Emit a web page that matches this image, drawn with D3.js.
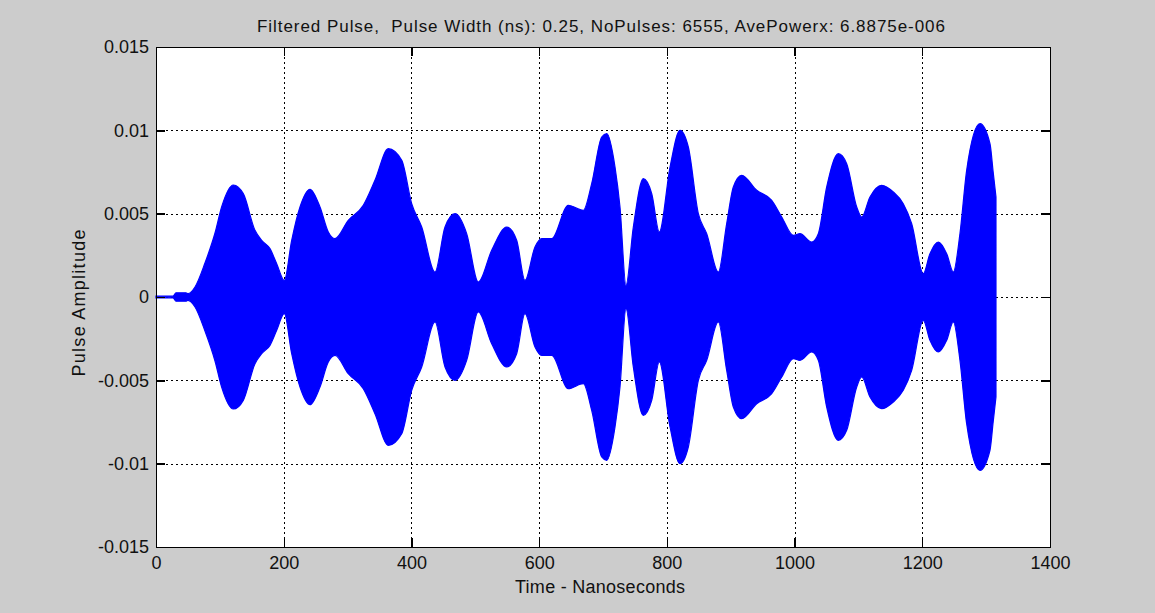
<!DOCTYPE html>
<html>
<head>
<meta charset="utf-8">
<script src="https://cdn.jsdelivr.net/npm/d3@7"></script>
<style>
  html, body { margin: 0; padding: 0; background: #cccccc; }
  svg { display: block; }
  text { font-family: "Liberation Sans", Arial, sans-serif; fill: #111; }
</style>
</head>
<body>
<svg id="chart" width="1155" height="613"></svg>
<script>
// Envelope of the filtered pulse train: time (ns) and peak amplitude
const timeNs = [0, 26.6, 31.3, 47, 50.1, 61.1, 76.7, 92.4, 102.9, 121.1, 136.7, 155.0, 165.5, 178.5, 189.0, 200.9,
  212.5, 225.5, 241.2, 256.8, 269.8, 280.3, 301.1, 324.6, 342.9, 363.8, 384.8, 400.4, 416.1, 436.9, 452.6, 468.3,
  486.5, 504.7, 525.7, 549.2, 564.8, 577.8, 593.5, 604.0, 619.7, 645.6, 669.2, 682.3, 698.0, 705.8, 718.8, 726.6,
  736.0, 747.5, 763.1, 776.3, 788.2, 805.0, 820.6, 833.6, 849.3, 862.4, 880.6, 893.7, 904.1, 917.2, 940.7, 964.2,
  979.9, 998.0, 1008.5, 1026.8, 1037.2, 1050.3, 1068.5, 1081.6, 1097.3, 1105.1, 1118.1, 1136.4, 1154.6, 1170.2,
  1183.4, 1201.6, 1212.0, 1225.1, 1238.2, 1248.6, 1259.0, 1269.5, 1290.4, 1306.0, 1311.0, 1315.4];
const amplitude = [0.00005, 0.00005, 0.00025, 0.00025, 0.0002, 0.0006, 0.00204, 0.00384, 0.00542, 0.00672, 0.0062, 0.0040, 0.0034, 0.0029, 0.0020, 0.0010,
  0.0034, 0.0054, 0.00646, 0.0054, 0.0039, 0.0035, 0.0046, 0.0055, 0.0070, 0.0089, 0.0082, 0.0056, 0.0042, 0.0015, 0.0042, 0.0050,
  0.0038, 0.0009, 0.0028, 0.0042, 0.0034, 0.0010, 0.0030, 0.0035, 0.0035, 0.0055, 0.0052, 0.0068, 0.0096, 0.0098, 0.0078, 0.0054,
  0.0007, 0.0042, 0.0071, 0.0062, 0.0039, 0.0078, 0.0100, 0.0090, 0.0050, 0.0038, 0.0015, 0.0044, 0.0066, 0.0073, 0.0064, 0.0058,
  0.0048, 0.0037, 0.0038, 0.0033, 0.0038, 0.0066, 0.0086, 0.0080, 0.0054, 0.0048, 0.0060, 0.0067, 0.0063, 0.0056,
  0.0044, 0.0014, 0.0026, 0.0033, 0.0026, 0.0015, 0.0038, 0.0076, 0.0104, 0.0092, 0.0075, 0.0060];

const xTicks = [0, 200, 400, 600, 800, 1000, 1200, 1400];
const yTicks = [-0.015, -0.01, -0.005, 0, 0.005, 0.01, 0.015];
const yTickLabels = ["-0.015", "-0.01", "-0.005", "0", "0.005", "0.01", "0.015"];

const titleText = "Filtered Pulse,  Pulse Width (ns): 0.25, NoPulses: 6555, AvePowerx: 6.8875e-006";
const xLabel = "Time - Nanoseconds";
const yLabel = "Pulse Amplitude";

const svg = d3.select("#chart");
const plot = { left: 156, top: 47, right: 1050, bottom: 547 };

const x = d3.scaleLinear().domain([0, 1400]).range([plot.left, plot.right]);
const y = d3.scaleLinear().domain([-0.015, 0.015]).range([plot.bottom, plot.top]);

// plot background
svg.append("rect")
  .attr("x", plot.left).attr("y", plot.top)
  .attr("width", plot.right - plot.left).attr("height", plot.bottom - plot.top)
  .attr("fill", "#ffffff");

// dotted grid
const grid = svg.append("g").attr("stroke", "#000").attr("stroke-width", 1)
  .attr("stroke-dasharray", "2,3").attr("shape-rendering", "crispEdges");
grid.selectAll("line.vx").data(xTicks.slice(1, -1)).join("line")
  .attr("x1", d => Math.round(x(d)) + 0.5).attr("x2", d => Math.round(x(d)) + 0.5)
  .attr("y1", plot.top).attr("y2", plot.bottom);
grid.selectAll("line.hy").data(yTicks.slice(1, -1)).join("line")
  .attr("y1", d => Math.round(y(d)) + 0.5).attr("y2", d => Math.round(y(d)) + 0.5)
  .attr("x1", plot.left).attr("x2", plot.right);

// signal envelope, symmetric about zero
const pts = timeNs.map((t, i) => ({ t, a: amplitude[i] }));
const area = d3.area()
  .x(d => x(d.t))
  .y0(d => y(-d.a))
  .y1(d => y(d.a))
  .curve(d3.curveMonotoneX);
svg.append("path").datum(pts)
  .attr("d", area)
  .attr("fill", "#0000ff")
  .attr("stroke", "#0000ff")
  .attr("stroke-width", 1.2);

// axes with inward ticks
const axisG = svg.append("g").attr("shape-rendering", "crispEdges");
const xAxisB = d3.axisBottom(x).tickValues(xTicks).tickSizeInner(-9).tickSizeOuter(0).tickPadding(9).tickFormat(d3.format("d"));
const xAxisT = d3.axisTop(x).tickValues(xTicks).tickSizeInner(-9).tickSizeOuter(0).tickFormat("");
const yAxisL = d3.axisLeft(y).tickValues(yTicks).tickSizeInner(-9).tickSizeOuter(0).tickPadding(7).tickFormat((d, i) => yTickLabels[i]);
const yAxisR = d3.axisRight(y).tickValues(yTicks).tickSizeInner(-9).tickSizeOuter(0).tickFormat("");

function styleAxis(g) {
  g.selectAll("path.domain").attr("stroke", "#000").attr("stroke-width", 1.4);
  g.selectAll(".tick line").attr("stroke", "#000").attr("stroke-width", 1.4);
  g.selectAll(".tick text").attr("font-family", "Liberation Sans, Arial, sans-serif")
    .attr("font-size", 18).attr("fill", "#111");
}
axisG.append("g").attr("transform", `translate(0,${plot.bottom})`).call(xAxisB).call(styleAxis);
axisG.append("g").attr("transform", `translate(0,${plot.top})`).call(xAxisT).call(styleAxis);
axisG.append("g").attr("transform", `translate(${plot.left},0)`).call(yAxisL).call(styleAxis);
axisG.append("g").attr("transform", `translate(${plot.right},0)`).call(yAxisR).call(styleAxis);

// text labels
svg.append("text").attr("x", 601).attr("y", 32)
  .attr("text-anchor", "middle").attr("font-size", 17).style("white-space", "pre")
  .attr("textLength", 688).attr("lengthAdjust", "spacing").text(titleText);
svg.append("text").attr("x", 600).attr("y", 593)
  .attr("text-anchor", "middle").attr("font-size", 18)
  .attr("textLength", 170).attr("lengthAdjust", "spacing").text(xLabel);
svg.append("text").attr("transform", `translate(85,303) rotate(-90)`)
  .attr("text-anchor", "middle").attr("font-size", 18)
  .attr("textLength", 147).attr("lengthAdjust", "spacing").text(yLabel);
</script>
</body>
</html>
